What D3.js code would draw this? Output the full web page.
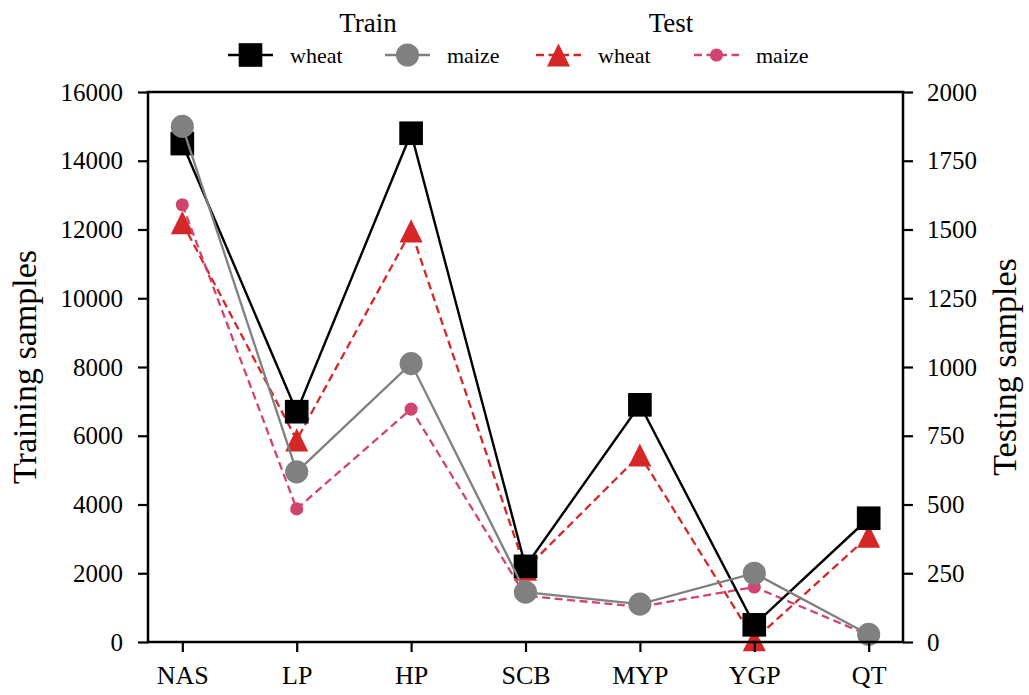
<!DOCTYPE html>
<html>
<head>
<meta charset="utf-8">
<script src="https://cdn.jsdelivr.net/npm/d3@7"></script>
<style>
  body { margin: 0; background: #fff; }
  text { font-family: "Liberation Serif", "Times New Roman", serif; fill: #000; }
</style>
</head>
<body>
<script>
// chart values
var regions = ["NAS", "LP", "HP", "SCB", "MYP", "YGP", "QT"];
var trainWheat = [14500, 6700, 14800, 2200, 6900, 500, 3600];
var trainMaize = [15000, 4950, 8100, 1450, 1100, 2000, 220];
var testWheat = [1525, 735, 1495, 265, 680, 8, 385];
var testMaize = [1590, 484, 847, 168, 128, 200, 25];
var leftTicks = [0, 2000, 4000, 6000, 8000, 10000, 12000, 14000, 16000];
var rightTicks = [0, 250, 500, 750, 1000, 1250, 1500, 1750, 2000];

var W = 1029, H = 695;
var mLeft = 148, mRight = 903, mTop = 92, mBottom = 642;

var svg = d3.select("body").append("svg")
  .attr("width", W).attr("height", H);

var x = d3.scalePoint().domain(regions).range([mLeft, mRight]).padding(0.3);
var yL = d3.scaleLinear().domain([0, 16000]).range([mBottom, mTop]);
var yR = d3.scaleLinear().domain([0, 2000]).range([mBottom, mTop]);

// matplotlib-like "^" marker: box-centred triangle
var triUp = {
  draw: function(ctx, size) {
    var r = Math.sqrt(size) / 2;
    ctx.moveTo(0, -r);
    ctx.lineTo(r, r);
    ctx.lineTo(-r, r);
    ctx.closePath();
  }
};

// series: drawn test first so train markers sit on top
var series = [
  {vals: testWheat, y: yR, color: "#d62728", dash: "8,4.5", shape: triUp, size: 530, stroke: 2.3},
  {vals: testMaize, y: yR, color: "#d0456f", dash: "8,4.5", shape: d3.symbolCircle, size: 135, stroke: 2.3},
  {vals: trainWheat, y: yL, color: "#000000", dash: null, shape: d3.symbolSquare, size: 560, stroke: 2.4},
  {vals: trainMaize, y: yL, color: "#808080", dash: null, shape: d3.symbolCircle, size: 420, stroke: 2.3}
];

var plot = svg.append("g");
series.forEach(function(s) {
  var line = d3.line()
    .x(function(d, i) { return x(regions[i]); })
    .y(function(d) { return s.y(d); });
  plot.append("path")
    .datum(s.vals)
    .attr("d", line)
    .attr("fill", "none")
    .attr("stroke", s.color)
    .attr("stroke-width", s.stroke)
    .attr("stroke-dasharray", s.dash);
  plot.selectAll(null)
    .data(s.vals)
    .enter().append("path")
    .attr("d", d3.symbol().type(s.shape).size(s.size))
    .attr("transform", function(d, i) {
      return "translate(" + x(regions[i]) + "," + s.y(d) + ")";
    })
    .attr("fill", s.color);
});

// axes
var axL = svg.append("g").attr("transform", "translate(" + mLeft + ",0)")
  .call(d3.axisLeft(yL).tickValues(leftTicks).tickSize(10).tickPadding(15).tickFormat(d3.format("d")));
var axR = svg.append("g").attr("transform", "translate(" + mRight + ",0)")
  .call(d3.axisRight(yR).tickValues(rightTicks).tickSize(10).tickPadding(14).tickFormat(d3.format("d")));
var axB = svg.append("g").attr("transform", "translate(0," + mBottom + ")")
  .call(d3.axisBottom(x).tickSize(10).tickPadding(14));

[axL, axR, axB].forEach(function(a) {
  a.select(".domain").remove();
  a.selectAll(".tick line").attr("stroke", "#000").attr("stroke-width", 2.2);
  a.selectAll(".tick text").attr("font-size", 25);
});
axB.selectAll(".tick text").attr("font-size", 26);

// frame
svg.append("rect")
  .attr("x", mLeft).attr("y", mTop)
  .attr("width", mRight - mLeft).attr("height", mBottom - mTop)
  .attr("fill", "none").attr("stroke", "#000").attr("stroke-width", 2.5);

// axis titles
svg.append("text")
  .attr("transform", "translate(36," + ((mTop + mBottom) / 2) + ") rotate(-90)")
  .attr("text-anchor", "middle").attr("font-size", 34)
  .text("Training samples");
svg.append("text")
  .attr("transform", "translate(1016," + ((mTop + mBottom) / 2) + ") rotate(-90)")
  .attr("text-anchor", "middle").attr("font-size", 34)
  .text("Testing samples");

// legend
var legTitles = [{t: "Train", cx: 368}, {t: "Test", cx: 671}];
svg.selectAll(null).data(legTitles).enter().append("text")
  .attr("x", function(d) { return d.cx; }).attr("y", 32)
  .attr("text-anchor", "middle").attr("font-size", 27)
  .text(function(d) { return d.t; });

var legItems = [
  {s: series[2], label: "wheat", x0: 228},
  {s: series[3], label: "maize", x0: 385},
  {s: series[0], label: "wheat", x0: 536},
  {s: series[1], label: "maize", x0: 694}
];
var ly = 55;
legItems.forEach(function(it) {
  var g = svg.append("g");
  g.append("line")
    .attr("x1", it.x0).attr("x2", it.x0 + 45)
    .attr("y1", ly).attr("y2", ly)
    .attr("stroke", it.s.color).attr("stroke-width", it.s.stroke)
    .attr("stroke-dasharray", it.s.dash ? "8,4.5" : null);
  g.append("path")
    .attr("d", d3.symbol().type(it.s.shape).size(it.s.size))
    .attr("transform", "translate(" + (it.x0 + 22.5) + "," + ly + ")")
    .attr("fill", it.s.color);
  g.append("text")
    .attr("x", it.x0 + 62).attr("y", ly + 8)
    .attr("font-size", 22)
    .text(it.label);
});
</script>
</body>
</html>
